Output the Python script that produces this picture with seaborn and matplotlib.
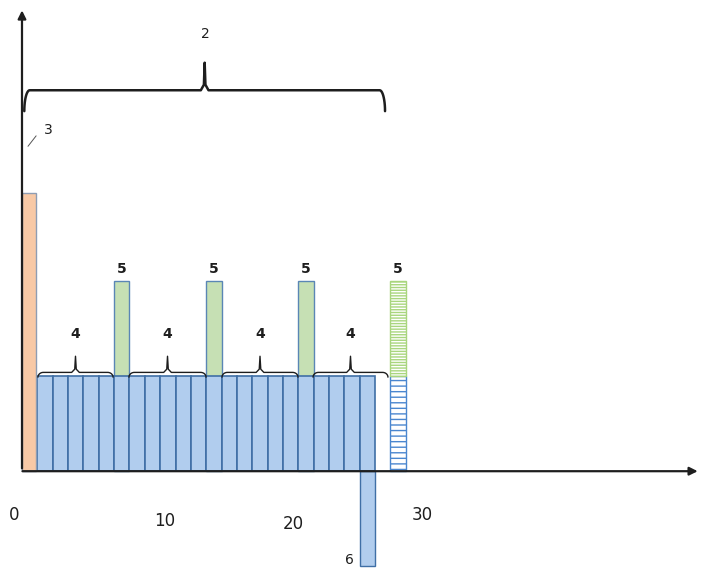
import numpy as np
import pandas as pd
import matplotlib
matplotlib.use('Agg')
import matplotlib.pyplot as plt
import seaborn as sns

# Data (slot index = bar position, heights in units of the blue level)
blue_slots = [1, 2, 3, 4, 5, 6, 7, 8, 9, 10, 11, 12, 13, 14, 15, 16, 17, 18, 19, 20, 21, 22]
blue_heights = [1.0] * 22
green_slots = [6, 12, 18]
green_heights = [1.0, 1.0, 1.0]
orange_slot = 0
orange_height = 2.93
neg_slot = 22
neg_height = -1.0
hatch_slot = 24
hatch_blue = 1.0
hatch_green = 1.0

group_spans = [(1.04, 5.93), (6.97, 11.99), (13.03, 17.98), (18.96, 23.84)]
tick_labels = ['0', '10', '20', '30']
tick_x = [-0.52, 9.32, 17.65, 26.06]
tick_y = [-0.46, -0.52, -0.56, -0.46]

BLUE = '#B1CDEE'
BLUE_EDGE = '#3F6FA6'
GREEN = '#C6E0B4'
ORANGE = '#F8C9A6'
LIGHT_GREEN = '#A9D67E'
INK = '#1E1E1E'

sns.set_theme(style='white')
fig = plt.figure(figsize=(7.1, 5.7), dpi=100)
ax = fig.add_axes([0, 0, 1, 1])

# green bars first (full stacked height), blue drawn over the lower part
ax.bar([s + 0.5 for s in green_slots],
       [b + g for b, g in zip([1.0] * 3, green_heights)],
       width=1.0, color=GREEN, edgecolor='#5A86B5', linewidth=1.0)

df = pd.DataFrame({'slot': [s + 0.5 for s in blue_slots], 'h': blue_heights})
sns.barplot(df, x='slot', y='h', native_scale=True, width=1.0, errorbar=None,
            color=BLUE, saturation=1, edgecolor=BLUE_EDGE, linewidth=1.2, ax=ax)

# orange bar and negative bar
ax.bar(orange_slot, orange_height, width=0.92, align='edge', color=ORANGE,
       edgecolor='#8E9DB3', linewidth=1.0)
ax.bar(neg_slot + 0.5, neg_height, width=1.0, color=BLUE, edgecolor=BLUE_EDGE,
       linewidth=1.0)

# hatched bar
plt.rcParams['hatch.linewidth'] = 1.0
ax.bar(hatch_slot + 0.5, hatch_blue, width=1.0, color='white', edgecolor='#4A86CF',
       hatch='---', linewidth=1.0)
ax.bar(hatch_slot + 0.5, hatch_green, bottom=hatch_blue, width=1.0, color='white',
       edgecolor=LIGHT_GREEN, hatch='------', linewidth=1.0)

# axes arrows
arrow = dict(arrowstyle='-|>', color=INK, lw=1.6, mutation_scale=12)
ax.annotate('', xy=(44.2, 0), xytext=(-0.15, 0), arrowprops=arrow)
ax.annotate('', xy=(0, 4.88), xytext=(0, 0), arrowprops=arrow)


def brace(x0, x1, y, drop, tip, lw):
    xm = (x0 + x1) / 2
    r = 0.35
    t = np.linspace(0, np.pi / 2, 12)
    left = np.column_stack([x0 + r - r * np.cos(t), y - drop + drop * np.sin(t)])
    right = np.column_stack([x1 - r + r * np.cos(t[::-1]), y - drop + drop * np.sin(t[::-1])])
    mid = np.array([[xm - 0.25, y], [xm - 0.05, y + tip * 0.2], [xm, y + tip],
                    [xm + 0.05, y + tip * 0.2], [xm + 0.25, y]])
    pts = np.vstack([left, mid, right])
    ax.plot(pts[:, 0], pts[:, 1], color=INK, lw=lw, solid_capstyle='round')


brace(0.15, 23.65, 4.01, 0.22, 0.29, 1.8)
ax.text(11.92, 4.6, '2', ha='center', va='center', fontsize=10, color=INK)

for x0, x1 in group_spans:
    brace(x0, x1, 1.04, 0.05, 0.17, 1.0)
    ax.text((x0 + x1) / 2, 1.44, '4', ha='center', va='center', fontsize=10,
            color=INK, fontweight='bold')

for s in green_slots + [hatch_slot]:
    ax.text(s + 0.5, 2.13, '5', ha='center', va='center', fontsize=10,
            color=INK, fontweight='bold')

ax.plot([0.39, 0.92], [3.42, 3.53], color='#555555', lw=0.7)
ax.text(1.69, 3.59, '3', ha='center', va='center', fontsize=10, color=INK)
ax.text(21.3, -0.94, '6', ha='center', va='center', fontsize=10, color=INK)

for lab, x, y in zip(tick_labels, tick_x, tick_y):
    ax.text(x, y, lab, ha='center', va='center', fontsize=12, color=INK)

ax.set_xlim(-1.433, 44.82)
ax.set_ylim(-1.04, 4.96)
ax.axis('off')

plt.savefig('out.png', dpi=100)
